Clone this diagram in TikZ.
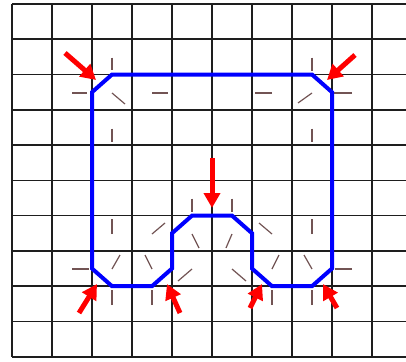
\documentclass[tikz,border=0pt]{standalone}
\usetikzlibrary{arrows.meta}
\definecolor{gridc}{RGB}{30,30,30}
\definecolor{tickc}{RGB}{90,55,55}
\definecolor{contour}{RGB}{0,0,255}
\definecolor{pointer}{RGB}{255,0,0}
\tikzset{
  gridline/.style={draw=gridc, line width=1.6pt},
  contourline/.style={draw=contour, line width=4pt, line join=miter},
  tickline/.style={draw=tickc, line width=1.2pt, opacity=0.85},
  pointerarrow/.style={draw=pointer, line width=5pt, -{Triangle[width=16pt,length=15pt]}},
}
\begin{document}
\begin{tikzpicture}[x=1pt,y=-1pt]
\useasboundingbox (0,0) rectangle (406,361);
\fill[white] (0,0) rectangle (406,361);
% grid
\begin{scope}[shift={(12pt,-4pt)}, x=40pt, y=-35.27pt]
  \foreach \i in {0,...,9} \draw[gridline] (\i,0) -- (\i,10);
  \foreach \j in {0,...,10} \draw[gridline] (0,\j) -- (9.85,\j);
\end{scope}
% ticks
\foreach \a/\b/\c/\d in {
  112/57.5/112/70, 72/93/87/93, 112/93/125/104, 152/93/168/93, 112/128.5/112/142,
  312/57.5/312/70.5, 272/93/255/93, 312/93/298/103, 352/93/333/93, 312/128.5/312/142,
  192/198.5/192/212, 232/198.5/232/212,
  112/234/112/219, 152/234/165/223, 192/234/199/248, 232/234/226/248, 272/234/259/223, 312/234/312/219,
  72/269/89/269, 112/269/120/255, 152/269/145/255, 192/269/178/281, 232/269/246/281, 272/269/279/255, 312/269/304/255, 352/269/335/269,
  112/305/112/290, 152/305/152/290, 272/305/272/290, 312/305/312/290}
  \draw[tickline] (\a,\b) -- (\c,\d);
% contour
\begin{scope}[shift={(12pt,-4pt)}, x=40pt, y=-35.27pt]
  \draw[contourline] (2,2.5) -- (2.5,2) -- (7.5,2) -- (8,2.5) -- (8,7.5) -- (7.5,8) -- (6.5,8) -- (6,7.5) -- (6,6.5) -- (5.5,6) -- (4.5,6) -- (4,6.5) -- (4,7.5) -- (3.5,8) -- (2.5,8) -- (2,7.5) -- cycle;
\end{scope}
% pointers
\coordinate (p1s) at (65,53);   \coordinate (p1e) at (96,80);
\coordinate (p2s) at (355,55);  \coordinate (p2e) at (327,80);
\coordinate (p3s) at (212,158); \coordinate (p3e) at (212,208);
\coordinate (p4s) at (79,313);  \coordinate (p4e) at (97,284);
\coordinate (p5s) at (180,313); \coordinate (p5e) at (167,284);
\coordinate (p6s) at (250,308); \coordinate (p6e) at (262,284);
\coordinate (p7s) at (337,308); \coordinate (p7e) at (323,284);
\foreach \k in {1,...,7} \draw[pointerarrow] (p\k s) -- (p\k e);
\end{tikzpicture}
\end{document}
